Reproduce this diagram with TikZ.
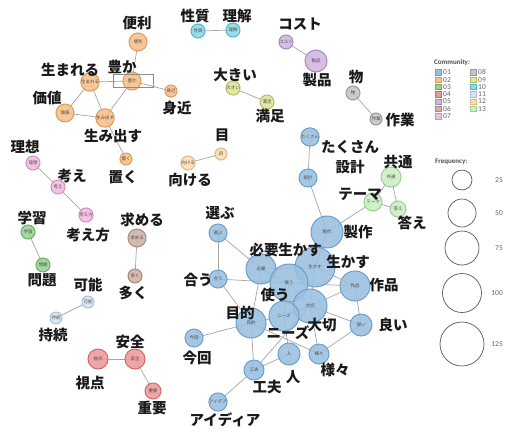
\documentclass[tikz,border=0pt]{standalone}
\usepackage{fontspec}
\newfontfamily\jpfont{Noto Sans CJK JP}
\newfontfamily\legfont{Carlito}
\definecolor{f01}{HTML}{9AC0E0}\definecolor{d01}{HTML}{6E9FC8}
\definecolor{f02}{HTML}{F8C08A}\definecolor{d02}{HTML}{E09A58}
\definecolor{f03}{HTML}{98D494}\definecolor{d03}{HTML}{68B064}
\definecolor{f04}{HTML}{EE9A9A}\definecolor{d04}{HTML}{D06A6A}
\definecolor{f05}{HTML}{D3B6E2}\definecolor{d05}{HTML}{A888C0}
\definecolor{f06}{HTML}{CDB2A6}\definecolor{d06}{HTML}{A88A7C}
\definecolor{f07}{HTML}{F2BCE2}\definecolor{d07}{HTML}{D090C0}
\definecolor{f08}{HTML}{C4C4C4}\definecolor{d08}{HTML}{999999}
\definecolor{f09}{HTML}{E0E49A}\definecolor{d09}{HTML}{BABE60}
\definecolor{f10}{HTML}{8ED8E6}\definecolor{d10}{HTML}{50B8CC}
\definecolor{f11}{HTML}{D4E4F4}\definecolor{d11}{HTML}{A8C0DC}
\definecolor{f12}{HTML}{F9DDB8}\definecolor{d12}{HTML}{E0B888}
\definecolor{f13}{HTML}{CCEFC4}\definecolor{d13}{HTML}{98D090}
\tikzset{
  wnode/.style={circle, inner sep=0pt, line width=1pt, font=\jpfont\fontsize{4.5}{4.5}\selectfont, text=black!70},
  lbl/.style={font=\jpfont\bfseries\fontsize{14.5}{14.5}\selectfont, text=black!90, inner sep=0pt},
  edge/.style={draw=black!35, line width=0.7pt},
  legtxt/.style={font=\legfont\fontsize{7.5}{7.5}\selectfont, text=black!60, inner sep=0pt, anchor=west},
  leghead/.style={font=\legfont\bfseries\fontsize{7}{7}\selectfont, text=black!70, inner sep=0pt, anchor=west},
  legsq/.style={minimum size=5.5pt, inner sep=0pt, line width=0.5pt},
  legc/.style={circle, draw=black!65, line width=0.7pt, inner sep=0pt},
}
\newcommand\wnd[6]{\node[wnode, minimum size=#4*2pt, fill=f#5, draw=d#5, fill opacity=0.88, text opacity=1] (#1) at (#2,#3) {#6};}
\begin{document}
\begin{tikzpicture}[x=1pt,y=-1pt]
\useasboundingbox (0,0) rectangle (505,432);
\fill[white] (0,0) rectangle (505,432);
% coordinates of nodes
\path
 (138,42) coordinate (benri) (90,82) coordinate (umareru) (132,81) coordinate (yutaka)
 (171,91) coordinate (mijika) (65,113) coordinate (kachi) (105,118) coordinate (umidasu)
 (126,159) coordinate (oku) (221,154) coordinate (me) (188,163) coordinate (mukeru)
 (198,31) coordinate (seishitsu) (233,30) coordinate (rikai) (286,42) coordinate (cost)
 (316,61) coordinate (seihin) (233,88) coordinate (ookii) (267,102) coordinate (manzoku)
 (353,93) coordinate (mono) (376,119) coordinate (sagyo) (310,137) coordinate (takusan)
 (308,178) coordinate (sekkei) (391,177) coordinate (kyotsu) (373,202) coordinate (thema)
 (398,209) coordinate (kotae) (327,232) coordinate (seisaku) (218,233) coordinate (erabu)
 (218,279) coordinate (au) (261,269) coordinate (hitsuyo) (315,267) coordinate (ikasu)
 (289,283) coordinate (tsukau) (355,286) coordinate (sakuhin) (310,306) coordinate (taisetsu)
 (284,316) coordinate (needs) (251,323) coordinate (mokuteki) (361,325) coordinate (yoi)
 (194,338) coordinate (konkai) (289,354) coordinate (hito) (319,354) coordinate (samazama)
 (254,370) coordinate (kufu) (218,402) coordinate (idea) (33,163) coordinate (riso)
 (58,187) coordinate (kangae) (86,215) coordinate (kangaekata) (28,232) coordinate (gakushu)
 (43,265) coordinate (mondai) (137,238) coordinate (motomeru) (135,276) coordinate (ooku)
 (88,302) coordinate (kano) (56,318) coordinate (jizoku) (135,359) coordinate (anzen)
 (98,359) coordinate (shiten) (153,391) coordinate (juyo);
% edges
\foreach \a/\b in {benri/yutaka, umareru/yutaka, umareru/kachi, umareru/umidasu, yutaka/umidasu,
  yutaka/mijika, kachi/umidasu, umidasu/oku, me/mukeru, seishitsu/rikai, cost/seihin,
  ookii/manzoku, mono/sagyo, takusan/sekkei, sekkei/seisaku, kyotsu/thema, kyotsu/kotae,
  thema/kotae, thema/seisaku, erabu/au, erabu/hitsuyo, au/tsukau, au/mokuteki,
  hitsuyo/mokuteki, hitsuyo/ikasu, hitsuyo/tsukau, ikasu/seisaku, ikasu/sakuhin,
  ikasu/taisetsu, tsukau/sakuhin, tsukau/taisetsu, tsukau/needs, sakuhin/taisetsu,
  sakuhin/yoi, taisetsu/yoi, taisetsu/needs, taisetsu/samazama, taisetsu/kufu,
  mokuteki/needs, mokuteki/konkai, mokuteki/kufu, mokuteki/samazama, needs/hito,
  hito/kufu, yoi/samazama, kufu/idea, riso/kangae, kangae/kangaekata, gakushu/mondai,
  motomeru/ooku, kano/jizoku, anzen/shiten, anzen/juyo}
  \draw[edge] (\a) -- (\b);
% nodes
\wnd{nbenri}{138}{42}{9}{02}{便利}
\wnd{numareru}{90}{82}{8}{02}{生まれる}
\wnd{nyutaka}{132}{81}{9}{02}{豊か}
\wnd{nmijika}{171}{91}{6}{02}{身近}
\wnd{nkachi}{65}{113}{9}{02}{価値}
\wnd{numidasu}{105}{118}{7}{02}{生み出す}
\wnd{noku}{126}{159}{6}{02}{置く}
\wnd{nme}{221}{154}{6}{12}{目}
\wnd{nmukeru}{188}{163}{6}{12}{向ける}
\wnd{nseishitsu}{198}{31}{7}{10}{性質}
\wnd{nrikai}{233}{30}{7}{10}{理解}
\wnd{ncost}{286}{42}{7}{05}{コスト}
\wnd{nseihin}{316}{61}{11}{05}{製品}
\wnd{nookii}{233}{88}{7}{09}{大きい}
\wnd{nmanzoku}{267}{102}{7}{09}{満足}
\wnd{nmono}{353}{93}{7}{08}{物}
\wnd{nsagyo}{376}{119}{6}{08}{作業}
\wnd{ntakusan}{310}{137}{7}{01}{たくさん}
\wnd{nsekkei}{308}{178}{9}{01}{設計}
\wnd{nkyotsu}{391}{177}{10}{13}{共通}
\wnd{nthema}{373}{202}{9}{13}{テーマ}
\wnd{nkotae}{398}{209}{8}{13}{答え}
\wnd{nseisaku}{327}{232}{16}{01}{製作}
\wnd{nerabu}{218}{233}{9}{01}{選ぶ}
\wnd{nau}{218}{279}{9}{01}{合う}
\wnd{nhitsuyo}{261}{269}{15}{01}{必要}
\wnd{nikasu}{315}{267}{20}{01}{生かす}
\wnd{ntsukau}{289}{283}{19}{01}{使う}
\wnd{nsakuhin}{355}{286}{15}{01}{作品}
\wnd{ntaisetsu}{310}{306}{17}{01}{大切}
\wnd{nneeds}{284}{316}{15}{01}{ニーズ}
\wnd{nmokuteki}{251}{323}{15}{01}{目的}
\wnd{nyoi}{361}{325}{11}{01}{良い}
\wnd{nkonkai}{194}{338}{9}{01}{今回}
\wnd{nhito}{289}{354}{11}{01}{人}
\wnd{nsamazama}{319}{354}{10}{01}{様々}
\wnd{nkufu}{254}{370}{10}{01}{工夫}
\wnd{nidea}{218}{402}{7}{01}{アイデア}
\wnd{nriso}{33}{163}{7}{07}{理想}
\wnd{nkangae}{58}{187}{7}{07}{考え}
\wnd{nkangaekata}{86}{215}{6}{07}{考え方}
\wnd{ngakushu}{28}{232}{7}{03}{学習}
\wnd{nmondai}{43}{265}{7}{03}{問題}
\wnd{nmotomeru}{137}{238}{9}{06}{求める}
\wnd{nooku}{135}{276}{7}{06}{多く}
\wnd{nkano}{88}{302}{6}{11}{可能}
\wnd{njizoku}{56}{318}{6}{11}{持続}
\wnd{nanzen}{135}{359}{10}{04}{安全}
\wnd{nshiten}{98}{359}{10}{04}{視点}
\wnd{njuyo}{153}{391}{8}{04}{重要}
% selection box
\draw[black!45, line width=0.5pt] (113,74) rectangle (153,87);
% labels
\node[lbl] (lbenri) at (137,23) {便利};
\node[lbl] (lumareru) at (70,70) {生まれる};
\node[lbl] (lyutaka) at (122,67) {豊か};
\node[lbl] (lmijika) at (177,108) {身近};
\node[lbl] (lkachi) at (47,98) {価値};
\node[lbl] (lumidasu) at (113,136) {生み出す};
\node[lbl] (loku) at (123,177) {置く};
\node[lbl] (lme) at (222,135) {目};
\node[lbl] (lmukeru) at (190,180) {向ける};
\node[lbl] (lseishitsu) at (195,16) {性質};
\node[lbl] (lrikai) at (237,16) {理解};
\node[lbl] (lcost) at (300,24) {コスト};
\node[lbl] (lseihin) at (317,80) {製品};
\node[lbl] (lookii) at (235,75) {大きい};
\node[lbl] (lmanzoku) at (270,116) {満足};
\node[lbl] (lmono) at (356,77) {物};
\node[lbl] (lsagyo) at (400,120) {作業};
\node[lbl] (ltakusan) at (350,147) {たくさん};
\node[lbl] (lsekkei) at (350,167) {設計};
\node[lbl] (lkyotsu) at (398,162) {共通};
\node[lbl] (lthema) at (360,194) {テーマ};
\node[lbl] (lkotae) at (412,223) {答え};
\node[lbl] (lseisaku) at (358,232) {製作};
\node[lbl] (lerabu) at (220,213) {選ぶ};
\node[lbl] (lau) at (198,280) {合う};
\node[lbl] (lhitsuyo) at (264,250) {必要};
\node[lbl] (likasu2) at (300,250) {生かす};
\node[lbl] (likasu) at (348,262) {生かす};
\node[lbl] (ltsukau) at (275,295) {使う};
\node[lbl] (lsakuhin) at (384,285) {作品};
\node[lbl] (ltaisetsu) at (322,325) {大切};
\node[lbl] (lneeds) at (288,333) {ニーズ};
\node[lbl] (lmokuteki) at (240,313) {目的};
\node[lbl] (lyoi) at (393,325) {良い};
\node[lbl] (lkonkai) at (197,358) {今回};
\node[lbl] (lhito) at (293,377) {人};
\node[lbl] (lsamazama) at (335,370) {様々};
\node[lbl] (lkufu) at (267,387) {工夫};
\node[lbl] (lidea) at (225,420) {アイディア};
\node[lbl] (lriso) at (25,147) {理想};
\node[lbl] (lkangae) at (72,176) {考え};
\node[lbl] (lkangaekata) at (88,235) {考え方};
\node[lbl] (lgakushu) at (32,218) {学習};
\node[lbl] (lmondai) at (42,280) {問題};
\node[lbl] (lmotomeru) at (142,220) {求める};
\node[lbl] (looku) at (133,293) {多く};
\node[lbl] (lkano) at (88,285) {可能};
\node[lbl] (ljizoku) at (53,335) {持続};
\node[lbl] (lanzen) at (130,342) {安全};
\node[lbl] (lshiten) at (90,383) {視点};
\node[lbl] (ljuyo) at (152,408) {重要};
% legend: community
\node[leghead] (lgc) at (434,63) {Community:};
\foreach \c/\y in {01/72.3,02/79.6,03/86.9,04/94.2,05/101.5,06/108.8,07/116.1} {
  \node[legsq, fill=f\c, draw=d\c] (sq\c) at (438,\y) {};
  \node[legtxt] (tx\c) at (443,\y) {\c};
}
\foreach \c/\y in {08/72.3,09/79.6,10/86.9,11/94.2,12/101.5,13/108.8} {
  \node[legsq, fill=f\c, draw=d\c] (sq\c) at (473,\y) {};
  \node[legtxt] (tx\c) at (478,\y) {\c};
}
% legend: frequency
\node[leghead] (lgf) at (435,162) {Frequency:};
\foreach \v/\y/\r in {25/180/10,50/213/14,75/248/17,100/293/19.5,125/344/22} {
  \node[legc, minimum size=\r*2pt] (fc\v) at (462,\y) {};
  \node[legtxt, anchor=east] (fl\v) at (503,\y) {\v};
}
\end{tikzpicture}
\end{document}
